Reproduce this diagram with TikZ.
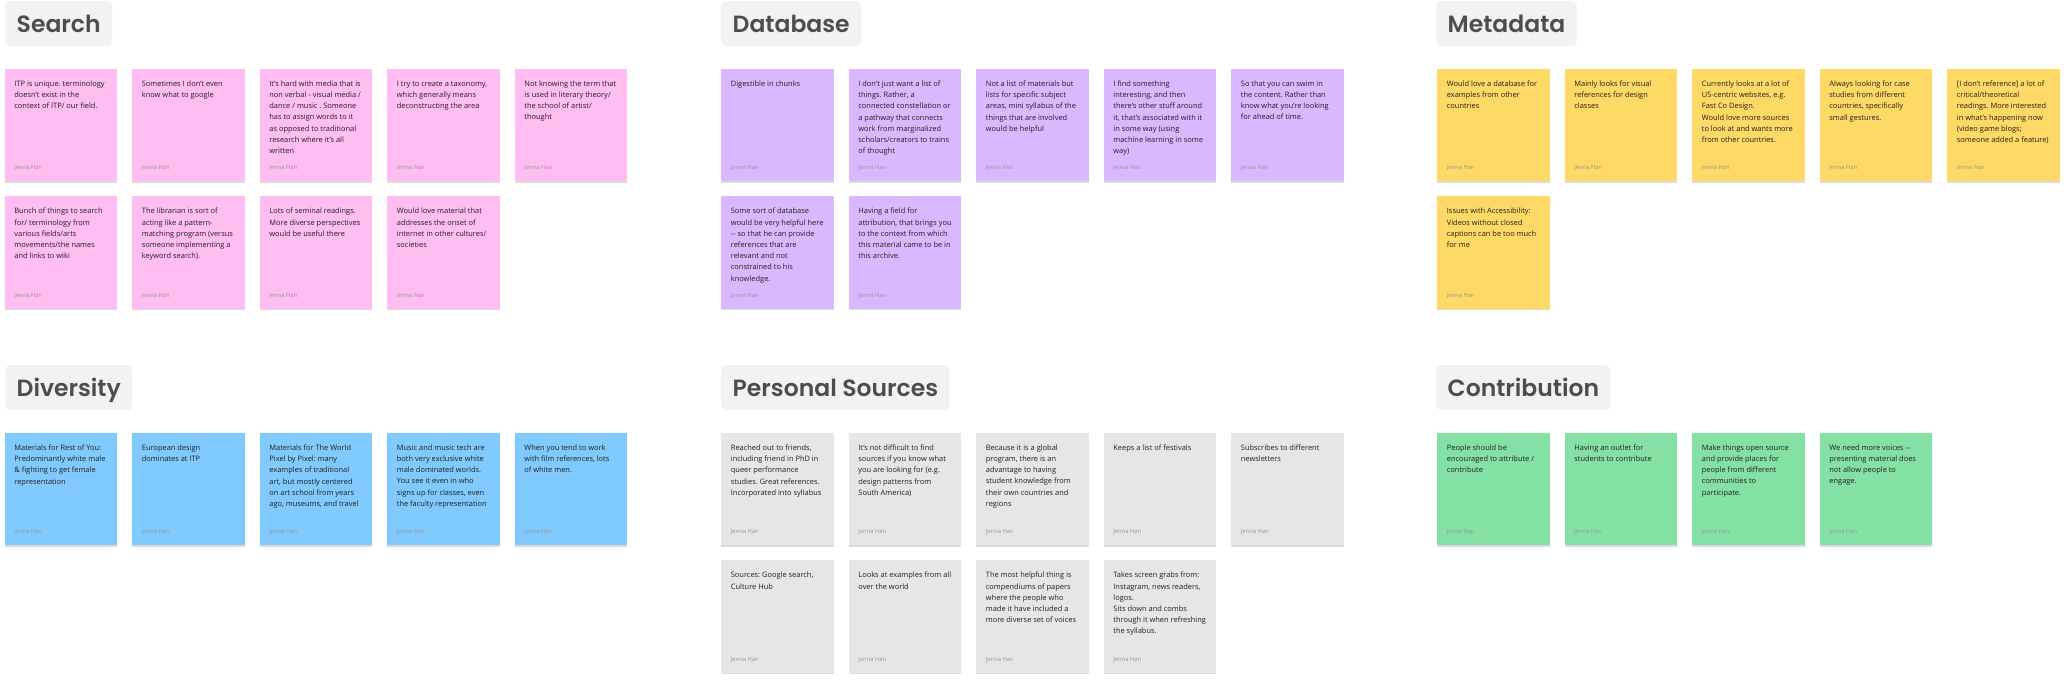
\documentclass[tikz,border=0pt]{standalone}
\usepackage{fontspec}
\setmainfont{Open Sans}
\newfontfamily\titlefont{Poppins SemiBold}
\usepackage{tikz}
\usetikzlibrary{positioning,shadows}
\frenchspacing

\definecolor{notepink}{HTML}{FFBDF2}
\definecolor{noteviolet}{HTML}{D9B8FF}
\definecolor{noteyellow}{HTML}{FFD966}
\definecolor{noteblue}{HTML}{80CAFF}
\definecolor{notegray}{HTML}{E6E6E6}
\definecolor{notegreen}{HTML}{85E0A3}
\definecolor{titlebg}{HTML}{F2F2F2}
\definecolor{titletext}{HTML}{4D4D4D}
\definecolor{bodytext}{HTML}{1F1F1F}

\tikzset{
  heading/.style={anchor=north west, fill=titlebg, rounded corners=5pt, inner xsep=11.5pt, inner ysep=0pt,
    minimum height=45pt, text height=17pt, text depth=0pt, text=titletext, font=\titlefont\fontsize{23.5}{28}\selectfont},
  sticky/.style={anchor=north west, fill=#1, minimum width=112.5pt, minimum height=112.5pt, inner sep=0pt,
    drop shadow={shadow xshift=0pt, shadow yshift=-1.5pt, opacity=0.14, fill=black},
    label={[author]below left:Jenna Han}},
  author/.style={anchor=base west, xshift=9.7pt, yshift=11.5pt, inner sep=0pt, text=black!42,
    font=\fontsize{5.8}{7}\selectfont},
  notetext/.style={anchor=north west, inner sep=0pt, align=left, text=bodytext,
    font=\fontsize{7.45}{11.2}\selectfont\frenchspacing},
}

\begin{document}
\begin{tikzpicture}[x=1pt, y=-1pt]

\useasboundingbox (0,0) rectangle (2064,681);
\fill[white] (0,0) rectangle (2064,681);

% headings
\node[heading] (hsearch) at (5,1) {Search};
\node[heading] (hdatabase) at (721,1) {Database};
\node[heading] (hmeta) at (1436,1) {Metadata};
\node[heading] (hdiv) at (5,365) {Diversity};
\node[heading] (hsources) at (721,365) {Personal Sources};
\node[heading] (hcontrib) at (1436,365) {Contribution};

%Search
\node[sticky=notepink] (search1) at (4.5,68.5) {};
\node[sticky=notepink] (search2) at (132,68.5) {};
\node[sticky=notepink] (search3) at (259.5,68.5) {};
\node[sticky=notepink] (search4) at (387,68.5) {};
\node[sticky=notepink] (search5) at (514.5,68.5) {};
\node[sticky=notepink] (search6) at (4.5,196) {};
\node[sticky=notepink] (search7) at (132,196) {};
\node[sticky=notepink] (search8) at (259.5,196) {};
\node[sticky=notepink] (search9) at (387,196) {};

\node[notetext, below right=12pt and 9.7pt of search1.north west] (search1t) {ITP is unique. terminology\\doesn’t exist in the\\context of ITP/ our field.};
\node[notetext, below right=12pt and 9.7pt of search2.north west] (search2t) {Sometimes I don’t even\\know what to google};
\node[notetext, below right=12pt and 9.7pt of search3.north west] (search3t) {It’s hard with media that is\\non verbal - visual media /\\dance / music . Someone\\has to assign words to it\\as opposed to traditional\\research where it’s all\\written};
\node[notetext, below right=12pt and 9.7pt of search4.north west] (search4t) {I try to create a taxonomy,\\which generally means\\deconstructing the area};
\node[notetext, below right=12pt and 9.7pt of search5.north west] (search5t) {Not knowing the term that\\is used in literary theory/\\the school of artist/\\thought};
\node[notetext, below right=12pt and 9.7pt of search6.north west] (search6t) {Bunch of things to search\\for/ terminology from\\various fields/arts\\movements/the names\\and links to wiki};
\node[notetext, below right=12pt and 9.7pt of search7.north west] (search7t) {The librarian is sort of\\acting like a pattern-\\matching program (versus\\someone implementing a\\keyword search).};
\node[notetext, below right=12pt and 9.7pt of search8.north west] (search8t) {Lots of seminal readings.\\More diverse perspectives\\would be useful there};
\node[notetext, below right=12pt and 9.7pt of search9.north west] (search9t) {Would love material that\\addresses the onset of\\internet in other cultures/\\societies};

%Database
\node[sticky=noteviolet] (db1) at (721,68.5) {};
\node[sticky=noteviolet] (db2) at (848.5,68.5) {};
\node[sticky=noteviolet] (db3) at (976,68.5) {};
\node[sticky=noteviolet] (db4) at (1103.5,68.5) {};
\node[sticky=noteviolet] (db5) at (1231,68.5) {};
\node[sticky=noteviolet] (db6) at (721,196) {};
\node[sticky=noteviolet] (db7) at (848.5,196) {};

\node[notetext, below right=12pt and 9.7pt of db1.north west] (db1t) {Digestible in chunks};
\node[notetext, below right=12pt and 9.7pt of db2.north west] (db2t) {I don’t just want a list of\\things. Rather, a\\connected constellation or\\a pathway that connects\\work from marginalized\\scholars/creators to trains\\of thought};
\node[notetext, below right=12pt and 9.7pt of db3.north west] (db3t) {Not a list of materials but\\lists for specific subject\\areas, mini syllabus of the\\things that are involved\\would be helpful};
\node[notetext, below right=12pt and 9.7pt of db4.north west] (db4t) {I find something\\interesting, and then\\there’s other stuff around\\it, that’s associated with it\\in some way (using\\machine learning in some\\way)};
\node[notetext, below right=12pt and 9.7pt of db5.north west] (db5t) {So that you can swim in\\the content. Rather than\\know what you’re looking\\for ahead of time.};
\node[notetext, below right=12pt and 9.7pt of db6.north west] (db6t) {Some sort of database\\would be very helpful here\\-{}- so that he can provide\\references that are\\relevant and not\\constrained to his\\knowledge.};
\node[notetext, below right=12pt and 9.7pt of db7.north west] (db7t) {Having a field for\\attribution, that brings you\\to the context from which\\this material came to be in\\this archive.};

%Metadata
\node[sticky=noteyellow] (meta1) at (1437,68.5) {};
\node[sticky=noteyellow] (meta2) at (1564.5,68.5) {};
\node[sticky=noteyellow] (meta3) at (1692,68.5) {};
\node[sticky=noteyellow] (meta4) at (1819.5,68.5) {};
\node[sticky=noteyellow] (meta5) at (1947,68.5) {};
\node[sticky=noteyellow] (meta6) at (1437,196) {};

\node[notetext, below right=12pt and 9.7pt of meta1.north west] (meta1t) {Would love a database for\\examples from other\\countries};
\node[notetext, below right=12pt and 9.7pt of meta2.north west] (meta2t) {Mainly looks for visual\\references for design\\classes};
\node[notetext, below right=12pt and 9.7pt of meta3.north west] (meta3t) {Currently looks at a lot of\\US-centric websites, e.g.\\Fast Co Design.\\Would love more sources\\to look at and wants more\\from other countries.};
\node[notetext, below right=12pt and 9.7pt of meta4.north west] (meta4t) {Always looking for case\\studies from different\\countries, specifically\\small gestures.};
\node[notetext, below right=12pt and 9.7pt of meta5.north west] (meta5t) {[I don’t reference] a lot of\\critical/theoretical\\readings. More interested\\in what’s happening now\\(video game blogs;\\someone added a feature)};
\node[notetext, below right=12pt and 9.7pt of meta6.north west] (meta6t) {Issues with Accessibility:\\Videos without closed\\captions can be too much\\for me};

%Diversity
\node[sticky=noteblue] (div1) at (4.5,432.5) {};
\node[sticky=noteblue] (div2) at (132,432.5) {};
\node[sticky=noteblue] (div3) at (259.5,432.5) {};
\node[sticky=noteblue] (div4) at (387,432.5) {};
\node[sticky=noteblue] (div5) at (514.5,432.5) {};

\node[notetext, below right=12pt and 9.7pt of div1.north west] (div1t) {Materials for Rest of You:\\Predominantly white male\\\& fighting to get female\\representation};
\node[notetext, below right=12pt and 9.7pt of div2.north west] (div2t) {European design\\dominates at ITP};
\node[notetext, below right=12pt and 9.7pt of div3.north west] (div3t) {Materials for The World\\Pixel by Pixel: many\\examples of traditional\\art, but mostly centered\\on art school from years\\ago, museums, and travel};
\node[notetext, below right=12pt and 9.7pt of div4.north west] (div4t) {Music and music tech are\\both very exclusive white\\male dominated worlds.\\You see it even in who\\signs up for classes, even\\the faculty representation};
\node[notetext, below right=12pt and 9.7pt of div5.north west] (div5t) {When you tend to work\\with film references, lots\\of white men.};

%Personal Sources
\node[sticky=notegray] (src1) at (721,432.5) {};
\node[sticky=notegray] (src2) at (848.5,432.5) {};
\node[sticky=notegray] (src3) at (976,432.5) {};
\node[sticky=notegray] (src4) at (1103.5,432.5) {};
\node[sticky=notegray] (src5) at (1231,432.5) {};
\node[sticky=notegray] (src6) at (721,560) {};
\node[sticky=notegray] (src7) at (848.5,560) {};
\node[sticky=notegray] (src8) at (976,560) {};
\node[sticky=notegray] (src9) at (1103.5,560) {};

\node[notetext, below right=12pt and 9.7pt of src1.north west] (src1t) {Reached out to friends,\\including friend in PhD in\\queer performance\\studies. Great references.\\Incorporated into syllabus};
\node[notetext, below right=12pt and 9.7pt of src2.north west] (src2t) {It’s not difficult to find\\sources if you know what\\you are looking for (e.g.\\design patterns from\\South America)};
\node[notetext, below right=12pt and 9.7pt of src3.north west] (src3t) {Because it is a global\\program, there is an\\advantage to having\\student knowledge from\\their own countries and\\regions};
\node[notetext, below right=12pt and 9.7pt of src4.north west] (src4t) {Keeps a list of festivals};
\node[notetext, below right=12pt and 9.7pt of src5.north west] (src5t) {Subscribes to different\\newsletters};
\node[notetext, below right=12pt and 9.7pt of src6.north west] (src6t) {Sources: Google search,\\Culture Hub};
\node[notetext, below right=12pt and 9.7pt of src7.north west] (src7t) {Looks at examples from all\\over the world};
\node[notetext, below right=12pt and 9.7pt of src8.north west] (src8t) {The most helpful thing is\\compendiums of papers\\where the people who\\made it have included a\\more diverse set of voices};
\node[notetext, below right=12pt and 9.7pt of src9.north west] (src9t) {Takes screen grabs from:\\Instagram, news readers,\\logos.\\Sits down and combs\\through it when refreshing\\the syllabus.};

%Contribution
\node[sticky=notegreen] (contrib1) at (1437,432.5) {};
\node[sticky=notegreen] (contrib2) at (1564.5,432.5) {};
\node[sticky=notegreen] (contrib3) at (1692,432.5) {};
\node[sticky=notegreen] (contrib4) at (1819.5,432.5) {};

\node[notetext, below right=12pt and 9.7pt of contrib1.north west] (contrib1t) {People should be\\encouraged to attribute /\\contribute};
\node[notetext, below right=12pt and 9.7pt of contrib2.north west] (contrib2t) {Having an outlet for\\students to contribute};
\node[notetext, below right=12pt and 9.7pt of contrib3.north west] (contrib3t) {Make things open source\\and provide places for\\people from different\\communities to\\participate.};
\node[notetext, below right=12pt and 9.7pt of contrib4.north west] (contrib4t) {We need more voices -{}-\\presenting material does\\not allow people to\\engage.};

\end{tikzpicture}
\end{document}
